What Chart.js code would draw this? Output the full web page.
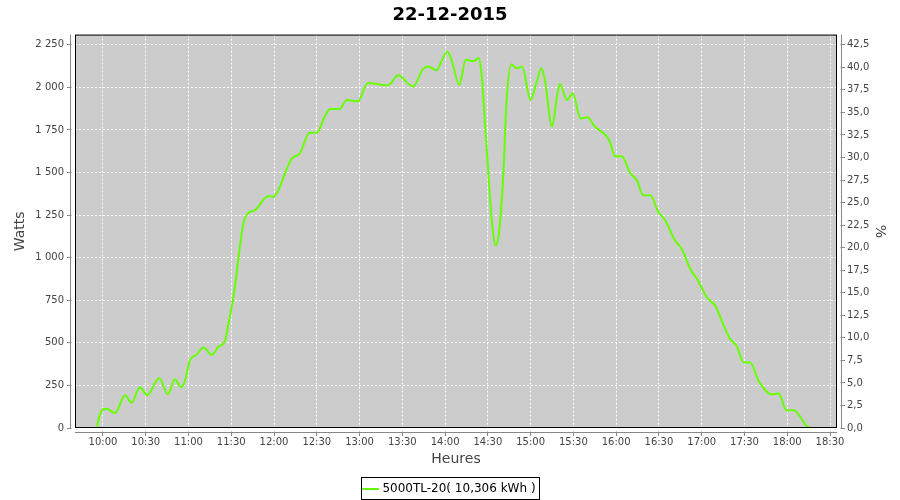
<!DOCTYPE html>
<html>
<head>
  <title>22-12-2015</title>
  <script src="https://cdn.jsdelivr.net/npm/chart.js"></script>
  <style>
    html, body { margin: 0; padding: 0; background: #fff; }
    #wrap { width: 900px; height: 500px; }
  </style>
</head>
<body>
  <div id="wrap"><canvas id="power"></canvas></div>

  <script>
    // minutes since midnight
    const times = [
      590, 595.5, 597, 600, 602.5, 608.5, 615.5, 620, 626, 631, 639.5, 645.5, 650.5, 655, 657.5,
      661, 665.5, 670.5, 676.5, 681, 685.5, 688, 691.5, 694, 696, 698.5, 702, 706.5, 716, 719.5,
      723, 729, 732.5, 738, 745, 750, 756, 759.5, 766, 771, 779, 785.5, 788.5, 798, 801.5,
      807, 817.5, 824.5, 828, 834, 837.5, 841.5, 844.5, 850, 854.5, 860, 863.5, 865.5, 868, 870.5,
      872.5, 875.5, 878, 881, 883, 886.5, 890, 894, 900, 904, 907.5, 910, 915, 918.5, 920.5,
      925.5, 929.5, 935, 940, 945, 953.5, 956, 959, 964, 970, 974.5, 979, 984, 989.5, 994.5,
      1000.5, 1006, 1012, 1017.5, 1023.5, 1029.5, 1035, 1040, 1044.5, 1049.5, 1054, 1060, 1069, 1074, 1079.5,
      1084.5, 1094, 1097.5, 1104
    ];
    const watts = [
      0, 0, 55, 110, 113, 88, 193, 148, 240, 193, 292, 198, 286, 240, 276,
      397, 429, 472, 429, 477, 509, 611, 768, 924, 1062, 1200, 1263, 1278, 1363, 1357,
      1395, 1523, 1582, 1612, 1733, 1733, 1837, 1873, 1873, 1926, 1918, 2025, 2025, 2012, 2020,
      2071, 2005, 2107, 2123, 2100, 2153, 2211, 2162, 2015, 2162, 2153, 2173, 2085, 1790, 1476,
      1240, 1073, 1161, 1514, 1906, 2136, 2113, 2123, 1926, 2025, 2113, 2044, 1770, 1946, 2020,
      1926, 1966, 1818, 1824, 1770, 1711, 1672, 1596, 1596, 1494, 1455, 1366, 1366, 1269, 1219,
      1111, 1052, 934, 865, 768, 718, 611, 522, 482, 384, 384, 276, 198, 202, 104,
      104, 10, 0, 0
    ];
    const timeTicks = [600, 630, 660, 690, 720, 750, 780, 810, 840, 870, 900, 930, 960, 990, 1020, 1050, 1080, 1110];
    const wattTicks = [0, 250, 500, 750, 1000, 1250, 1500, 1750, 2000, 2250];
    const pctTicks = [0, 2.5, 5, 7.5, 10, 12.5, 15, 17.5, 20, 22.5, 25, 27.5, 30, 32.5, 35, 37.5, 40, 42.5];
    const seriesLabel = '5000TL-20( 10,306 kWh )';
    const chartTitle = '22-12-2015';
    const wattMax = 2310;
    const pctMax = 43.63;

    const grey = '#444444';
    const font = 'DejaVu Sans';

    function hhmm(v) {
      const h = Math.floor(v / 60), m = Math.round(v % 60);
      return String(h).padStart(2, '0') + ':' + String(m).padStart(2, '0');
    }
    function setTicks(list) {
      return s => { s.ticks = list.map(v => ({ value: v })); };
    }

    const frame = {
      id: 'frame',
      beforeDraw(chart) {
        const a = chart.chartArea, ctx = chart.ctx;
        ctx.save();
        ctx.fillStyle = '#cccccc';
        ctx.fillRect(a.left, a.top, a.right - a.left, a.bottom - a.top);
        ctx.restore();
      },
      afterDraw(chart) {
        const a = chart.chartArea, ctx = chart.ctx;
        ctx.save();
        // gap between plot and axis lines
        ctx.fillStyle = '#fff';
        ctx.fillRect(a.left - 3.5, a.top - 1, 3.5, a.bottom - a.top + 2);
        ctx.fillRect(a.right, a.top - 1, 3.5, a.bottom - a.top + 2);
        ctx.fillRect(a.left, a.bottom, a.right - a.left, 3.5);
        ctx.strokeStyle = '#888888';
        ctx.lineWidth = 1;
        ctx.beginPath();
        ctx.moveTo(a.left - 4.5, a.top); ctx.lineTo(a.left - 4.5, a.bottom);
        ctx.moveTo(a.right + 4.5, a.top); ctx.lineTo(a.right + 4.5, a.bottom);
        ctx.moveTo(a.left, a.bottom + 4.5); ctx.lineTo(a.right, a.bottom + 4.5);
        ctx.stroke();
        ctx.strokeStyle = '#000';
        ctx.strokeRect(a.left + 0.5, a.top + 0.5, a.right - a.left - 1, a.bottom - a.top - 1);
        // legend box
        const lg = chart.legend;
        if (lg && lg.legendHitBoxes.length) {
          const b = lg.legendHitBoxes[0];
          const l = Math.round(b.left) - 2.5, t = Math.round(b.top) - 5.5;
          ctx.strokeRect(l, t, Math.round(b.width) + 7, Math.round(b.height) + 10);
        }
        ctx.restore();
      }
    };

    new Chart(document.getElementById('power').getContext('2d'), {
      type: 'line',
      data: {
        datasets: [{
          label: seriesLabel,
          data: times.map((t, i) => ({ x: t, y: watts[i] })),
          borderColor: '#66ff00',
          backgroundColor: '#66ff00',
          borderWidth: 2,
          pointRadius: 0,
          cubicInterpolationMode: 'monotone',
          yAxisID: 'y'
        }]
      },
      options: {
        responsive: true,
        maintainAspectRatio: false,
        animation: false,
        layout: { padding: { top: 0, left: 0, right: 0, bottom: -5 } },
        plugins: {
          title: {
            display: true,
            text: chartTitle,
            color: '#000',
            font: { family: font, size: 18, weight: 'bold' },
            padding: { top: 5, bottom: 8 }
          },
          legend: {
            position: 'bottom',
            labels: {
              usePointStyle: true,
              pointStyle: 'line',
              boxWidth: 16,
              color: '#000',
              font: { family: font, size: 12 },
              padding: 2
            }
          },
          tooltip: { enabled: false }
        },
        scales: {
          x: {
            type: 'linear',
            min: 580.4,
            max: 1114.9,
            afterBuildTicks: setTicks(timeTicks),
            afterFit(s) { s.height = 53; },
            border: { display: false, dash: [2, 2] },
            grid: {
              color: '#ffffff',
              tickColor: '#888888',
              tickLength: 8
            },
            ticks: {
              autoSkip: false,
              maxRotation: 0,
              padding: 0,
              color: grey,
              font: { family: font, size: 10 },
              callback: v => hhmm(v)
            },
            title: {
              display: true,
              text: 'Heures',
              color: grey,
              font: { family: font, size: 14 },
              padding: { top: 2, bottom: 13 }
            }
          },
          y: {
            position: 'left',
            min: 0,
            max: wattMax,
            afterBuildTicks: setTicks(wattTicks),
            afterFit(s) { s.width = 75; },
            border: { display: false, dash: [2, 2] },
            grid: {
              color: '#ffffff',
              tickColor: '#888888',
              tickLength: 8
            },
            ticks: {
              padding: 3,
              color: grey,
              font: { family: font, size: 10 },
              callback: v => v >= 1000 ? Math.floor(v / 1000) + ' ' + String(v % 1000).padStart(3, '0') : String(v)
            },
            title: {
              display: true,
              text: 'Watts',
              color: grey,
              font: { family: font, size: 14 },
              padding: { top: 12, bottom: 0 }
            }
          },
          y2: {
            position: 'right',
            min: 0,
            max: pctMax,
            afterBuildTicks: setTicks(pctTicks),
            afterFit(s) { s.width = 63; },
            border: { display: false },
            grid: {
              drawOnChartArea: false,
              tickColor: '#888888',
              tickLength: 8
            },
            ticks: {
              padding: 2,
              color: grey,
              font: { family: font, size: 10 },
              callback: v => v.toFixed(1).replace('.', ',')
            },
            title: {
              display: true,
              text: '%',
              color: grey,
              font: { family: font, size: 14 },
              padding: { top: 12, bottom: 0 }
            }
          }
        }
      },
      plugins: [frame]
    });
  </script>
</body>
</html>
